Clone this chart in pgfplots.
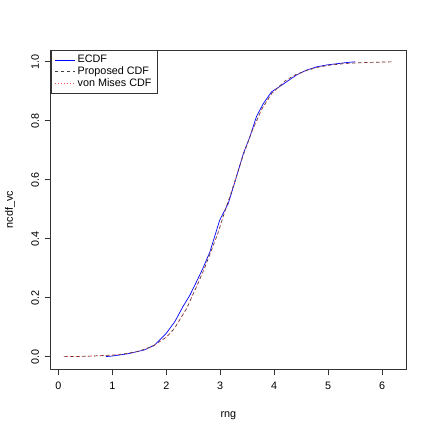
\documentclass[border=0pt]{standalone}
\usepackage{fontspec}
\setmainfont{Liberation Sans}
\usepackage{pgfplots}
\pgfplotsset{compat=1.18}
\usetikzlibrary{calc}

\pgfplotstableread{
x y
0.88 0.000
1.00 0.002
1.30 0.010
1.60 0.023
1.79 0.040
2.00 0.079
2.16 0.119
2.31 0.170
2.44 0.209
2.56 0.254
2.68 0.300
2.81 0.356
2.99 0.463
3.15 0.520
3.30 0.610
3.43 0.690
3.55 0.746
3.67 0.814
3.80 0.859
3.95 0.898
4.14 0.921
4.41 0.955
4.60 0.972
4.79 0.983
5.00 0.990
5.37 0.998
5.50 1.000
}\ecdf

\pgfplotstableread{
x y
0.106 0.000
0.50 0.001
1.00 0.005
1.25 0.010
1.50 0.019
1.75 0.035
2.00 0.066
2.15 0.095
2.25 0.125
2.38 0.164
2.48 0.205
2.59 0.249
2.72 0.305
2.84 0.362
2.96 0.420
3.08 0.490
3.21 0.560
3.40 0.670
3.58 0.762
3.77 0.840
3.95 0.892
4.20 0.935
4.38 0.955
4.60 0.971
4.80 0.981
5.00 0.988
5.30 0.994
5.60 0.997
6.00 0.999
6.20 1.000
}\proposed

\pgfplotstableread{
x y
0.106 0.000
0.50 0.001
1.00 0.005
1.25 0.010
1.50 0.019
1.75 0.035
2.00 0.066
2.15 0.096
2.25 0.126
2.38 0.165
2.48 0.206
2.59 0.250
2.72 0.306
2.84 0.363
2.96 0.421
3.08 0.490
3.21 0.559
3.40 0.669
3.58 0.761
3.77 0.839
3.95 0.891
4.20 0.934
4.38 0.954
4.60 0.971
4.80 0.981
5.00 0.988
5.30 0.994
5.60 0.997
6.00 0.999
6.20 1.000
}\vonmises

\begin{document}
\fontsize{10.8bp}{13bp}\selectfont
\begin{tikzpicture}
\path[use as bounding box] (-50.7bp,-62.7bp) rectangle (381.3bp,369.3bp);
\begin{axis}[
  at={(0,0)}, anchor=south west,
  scale only axis,
  width=355.3bp, height=319.3bp,
  xmin=-0.14, xmax=6.44,
  ymin=-0.043, ymax=1.04,
  axis line style={line width=0.6pt, black!80},
  tick style={line width=0.6pt, black!80},
  tick align=outside,
  tick pos=left,
  major tick length=6bp,
  xtick={0,1,2,3,4,5,6},
  ytick={0,0.2,0.4,0.6,0.8,1.0},
  /pgf/number format/assume math mode=true,
  yticklabel style={/pgf/number format/fixed, /pgf/number format/fixed zerofill, /pgf/number format/precision=1, rotate=90, anchor=south, yshift=2bp, font=\fontsize{10.8bp}{13bp}\selectfont},
  xticklabel style={yshift=-3bp, font=\fontsize{10.8bp}{13bp}\selectfont},
  xlabel={rng},
  ylabel={ncdf\_vc},
  xlabel style={at={($(rel axis cs:0.5,0)+(0,-46.7bp)$)}, anchor=center, font=\fontsize{10.8bp}{13bp}\selectfont},
  ylabel style={at={($(rel axis cs:0,0.5)+(-40.7bp,0)$)}, anchor=center, font=\fontsize{10.8bp}{13bp}\selectfont},
  legend cell align=left,
  legend style={at={(rel axis cs:0,1)}, anchor=north west, draw=black!80, line width=0.6pt,
    font=\fontsize{10.8bp}{13bp}\selectfont, inner xsep=4bp, inner ysep=3bp, row sep=-1.5bp,
    /tikz/every even column/.append style={column sep=2bp}},
  legend image code/.code={\draw[#1] (2bp,0bp) -- (22bp,0bp);},
]
\addplot[blue, line width=0.7pt] table {\ecdf};
\addlegendentry{ECDF}
\addplot[black!75, line width=0.7pt, dash pattern=on 3bp off 3bp] table {\proposed};
\addlegendentry{Proposed CDF}
\addplot[red!70, line width=0.7pt, dash pattern=on 0.8bp off 2.2bp] table {\vonmises};
\addlegendentry{von Mises CDF}
\end{axis}
\end{tikzpicture}
\end{document}
